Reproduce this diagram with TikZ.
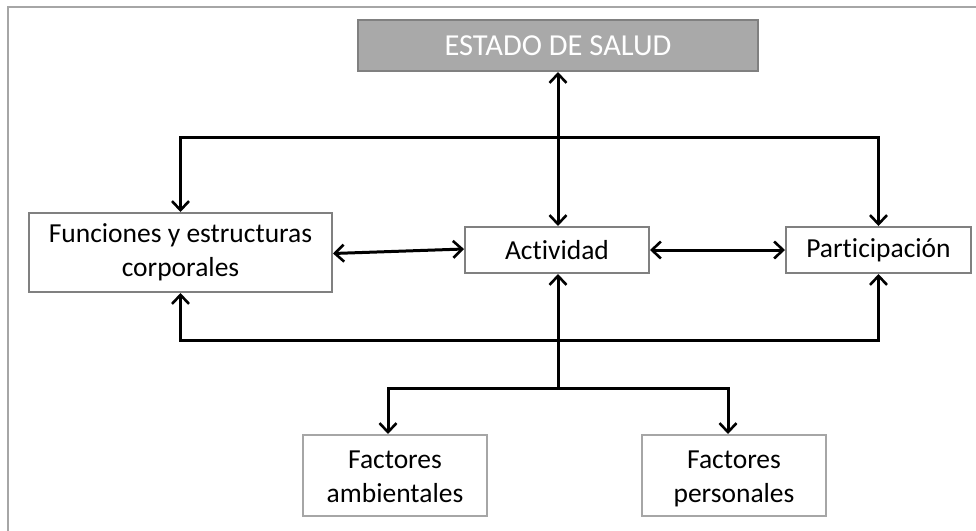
\documentclass[tikz,border=0pt]{standalone}
\usepackage{fontspec}
\setmainfont[Ligatures=NoCommon]{Carlito}
\usetikzlibrary{arrows.meta,positioning}
\definecolor{boxgray}{HTML}{808080}
\definecolor{lightgray}{HTML}{A6A6A6}
\definecolor{fillgray}{HTML}{A9A9A9}
\newcommand{\boxfont}{\fontsize{27.5}{34}\selectfont}
\newcommand{\titlefont}{\fontsize{30.5}{34}\selectfont}
\newcommand{\topgap}{\rule{0pt}{30pt}}
\tikzset{box/.style={draw=boxgray, line width=2pt, fill=white, align=center, inner sep=0pt, font=\boxfont}}
\tikzset{factbox/.style={box, draw=lightgray}}
\tikzset{arr/.style={line width=3pt, -{Straight Barb[length=9pt,width=17pt,line width=2.6pt]}}}
\tikzset{darr/.style={arr, {Straight Barb[length=9pt,width=17pt,line width=2.6pt]}-{Straight Barb[length=9pt,width=17pt,line width=2.6pt]}}}

\begin{document}
\begin{tikzpicture}[x=1pt, y=-1pt]
  \useasboundingbox (0,0) rectangle (976,530);
% frame
  \draw[lightgray, line width=2pt] (8,540) -- (8,7) -- (990,7);

  \node[box, fill=fillgray, text=white, font=\titlefont, minimum width=400pt, minimum height=51pt]
    (salud) at (558,45.5) {ESTADO DE SALUD};
  \node[box, minimum width=303pt, minimum height=79pt]
    (fun) at (180.5,252.5) {Funciones y estructuras\\corporales};
  \node[box, minimum width=184pt, minimum height=46pt]
    (act) at (557,250) {Actividad};
  \node[box, minimum width=185pt, minimum height=46pt]
    (par) at (878.5,250) {Participación};
  \node[factbox, minimum width=184pt, minimum height=81pt]
    (amb) at (395,475.5) {\topgap Factores\\ambientales\strut};
  \node[factbox, minimum width=184pt, minimum height=81pt]
    (per) at (734,475.5) {\topgap Factores\\personales\strut};

  \coordinate (topbar) at (558,137);
  \coordinate (botbar) at (558,340);
  \coordinate (fork) at (558,388);

  \draw[darr] (salud.south -| topbar) -- (act.north -| topbar);
  \draw[arr] (topbar) -| (fun.north);
  \draw[arr] (topbar) -| (par.north);
  \draw[arr] (botbar) -| (fun.south);
  \draw[arr] (botbar) -| (par.south);
  \draw[arr] (fork) -- (act.south -| fork);
  \draw[arr] (fork) -| ([xshift=-7pt]amb.north);
  \draw[arr] (fork) -| ([xshift=-6pt]per.north);
  \draw[darr] ([yshift=-1pt]fun.east) -- ([yshift=1pt]act.west);
  \draw[darr] (act.east) -- (par.west);
\end{tikzpicture}
\end{document}
